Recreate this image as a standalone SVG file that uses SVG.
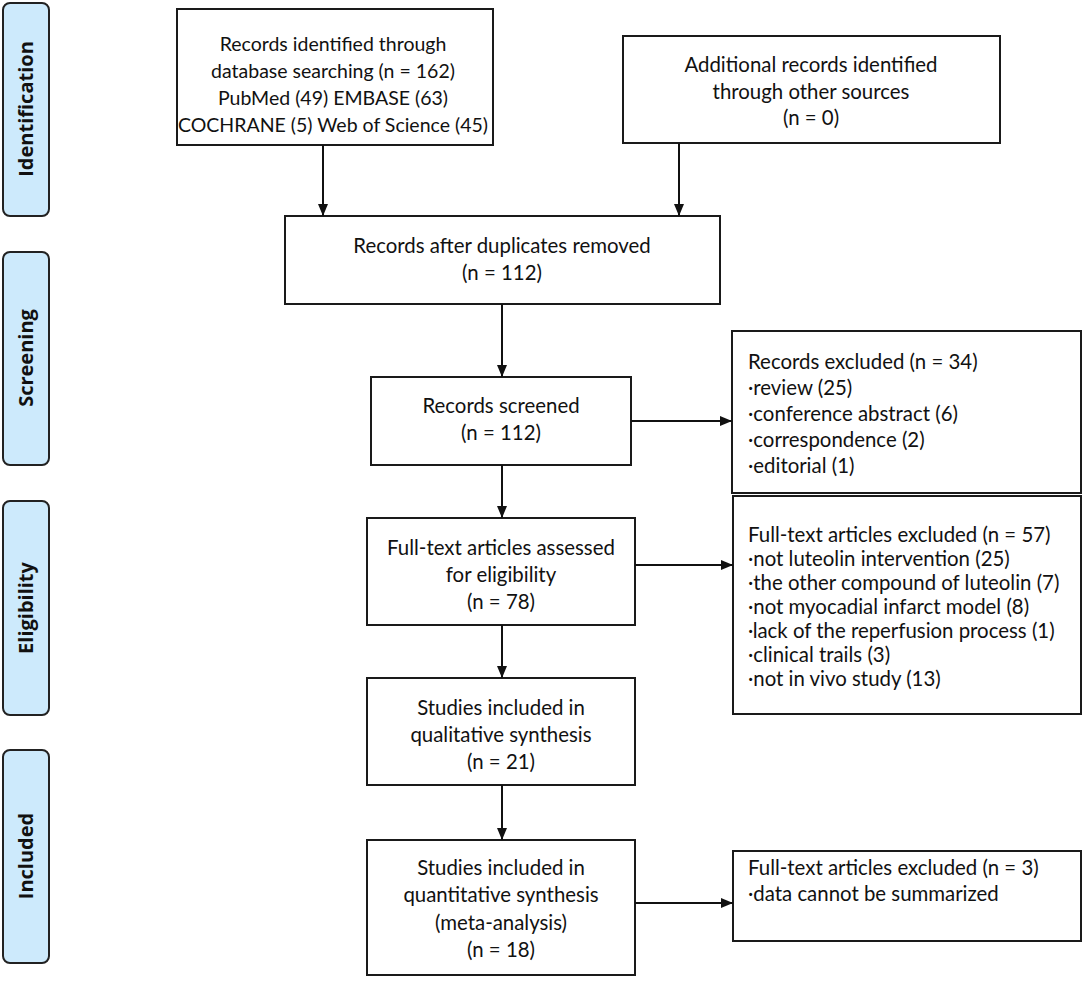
<svg xmlns="http://www.w3.org/2000/svg" width="1084" height="984" viewBox="0 0 1084 984">
<defs>
<marker id="ah" viewBox="0 0 12 10" refX="12" refY="5" markerWidth="12" markerHeight="10" markerUnits="userSpaceOnUse" orient="auto">
<path d="M0,0 L12,5 L0,10 z" fill="#111"/>
</marker>
<style>
.box{fill:#fff;stroke:#1a1a1a;stroke-width:2}
.side{fill:#cdeafc;stroke:#222;stroke-width:2}
.t{font-family:Lato,"Liberation Sans",sans-serif;font-size:20.4px;fill:#111}
.c{text-anchor:middle}
.sm{font-size:19.5px}
.s{font-family:"Open Sans","DejaVu Sans",sans-serif;font-weight:bold;font-size:20px;fill:#111;text-anchor:middle}
.ln{stroke:#111;stroke-width:2;fill:none;marker-end:url(#ah)}
</style>
</defs>
<rect width="1084" height="984" fill="#fff"/>
<g id="side-identification"><rect class="side" x="3" y="3" width="46" height="213" rx="7"/><text class="s" transform="translate(33,109) rotate(-90)">Identification</text></g>
<g id="side-screening"><rect class="side" x="3" y="252" width="46" height="213" rx="7"/><text class="s" transform="translate(33,358) rotate(-90)">Screening</text></g>
<g id="side-eligibility"><rect class="side" x="3" y="501" width="46" height="214" rx="7"/><text class="s" transform="translate(33,608) rotate(-90)">Eligibility</text></g>
<g id="side-included"><rect class="side" x="3" y="750" width="46" height="213" rx="7"/><text class="s" transform="translate(33,856) rotate(-90)">Included</text></g>

<g id="n-identified"><rect class="box" x="177" y="9" width="316" height="136"/>
<text class="t sm c"><tspan x="333" y="51">Records identified through</tspan><tspan x="333" y="78">database searching (n = 162)</tspan><tspan x="333" y="105">PubMed (49) EMBASE (63)</tspan><tspan x="333" y="132">COCHRANE (5) Web of Science (45)</tspan></text></g>
<g id="n-additional"><rect class="box" x="623" y="36" width="377" height="107"/>
<text class="t c"><tspan x="811" y="72">Additional records identified</tspan><tspan x="811" y="99">through other sources</tspan><tspan x="811" y="125">(n = 0)</tspan></text></g>
<g id="n-duplicates"><rect class="box" x="285" y="216" width="435" height="88"/>
<text class="t c"><tspan x="502" y="253">Records after duplicates removed</tspan><tspan x="502" y="280">(n = 112)</tspan></text></g>
<g id="n-screened"><rect class="box" x="371" y="377" width="260" height="88"/>
<text class="t c"><tspan x="501" y="413">Records screened</tspan><tspan x="501" y="440">(n = 112)</tspan></text></g>
<g id="n-excluded1"><rect class="box" x="732" y="331" width="349" height="162"/>
<text class="t"><tspan x="748" y="369">Records excluded (n = 34)</tspan><tspan x="748" y="395">·review (25)</tspan><tspan x="748" y="421">·conference abstract (6)</tspan><tspan x="748" y="447">·correspondence (2)</tspan><tspan x="748" y="473">·editorial (1)</tspan></text></g>
<g id="n-fulltext"><rect class="box" x="367" y="518" width="268" height="107"/>
<text class="t c"><tspan x="501" y="555">Full-text articles assessed</tspan><tspan x="501" y="582">for eligibility</tspan><tspan x="501" y="609">(n = 78)</tspan></text></g>
<g id="n-excluded2"><rect class="box" x="733" y="496" width="348" height="218"/>
<text class="t"><tspan x="748" y="542">Full-text articles excluded (n = 57)</tspan><tspan x="748" y="566">·not luteolin intervention (25)</tspan><tspan x="748" y="590">·the other compound of luteolin (7)</tspan><tspan x="748" y="614">·not myocadial infarct model (8)</tspan><tspan x="748" y="638">·lack of the reperfusion process (1)</tspan><tspan x="748" y="662">·clinical trails (3)</tspan><tspan x="748" y="686">·not in vivo study (13)</tspan></text></g>
<g id="n-qualitative"><rect class="box" x="367" y="678" width="268" height="107"/>
<text class="t c"><tspan x="501" y="715">Studies included in</tspan><tspan x="501" y="742">qualitative synthesis</tspan><tspan x="501" y="769">(n = 21)</tspan></text></g>
<g id="n-quantitative"><rect class="box" x="367" y="840" width="268" height="135"/>
<text class="t c"><tspan x="501" y="875">Studies included in</tspan><tspan x="501" y="902">quantitative synthesis</tspan><tspan x="501" y="930">(meta-analysis)</tspan><tspan x="501" y="957">(n = 18)</tspan></text></g>
<g id="n-excluded3"><rect class="box" x="733" y="851" width="348" height="90"/>
<text class="t"><tspan x="748" y="875">Full-text articles excluded (n = 3)</tspan><tspan x="748" y="901">·data cannot be summarized</tspan></text></g>

<g id="connectors">
<line class="ln" x1="323" y1="145" x2="323" y2="216"/>
<line class="ln" x1="679" y1="143" x2="679" y2="216"/>
<line class="ln" x1="502" y1="304" x2="502" y2="377"/>
<line class="ln" x1="631" y1="421" x2="732" y2="421"/>
<line class="ln" x1="502" y1="465" x2="502" y2="518"/>
<line class="ln" x1="635" y1="565" x2="733" y2="565"/>
<line class="ln" x1="502" y1="625" x2="502" y2="678"/>
<line class="ln" x1="502" y1="785" x2="502" y2="840"/>
<line class="ln" x1="635" y1="903" x2="733" y2="903"/>
</g>
</svg>
